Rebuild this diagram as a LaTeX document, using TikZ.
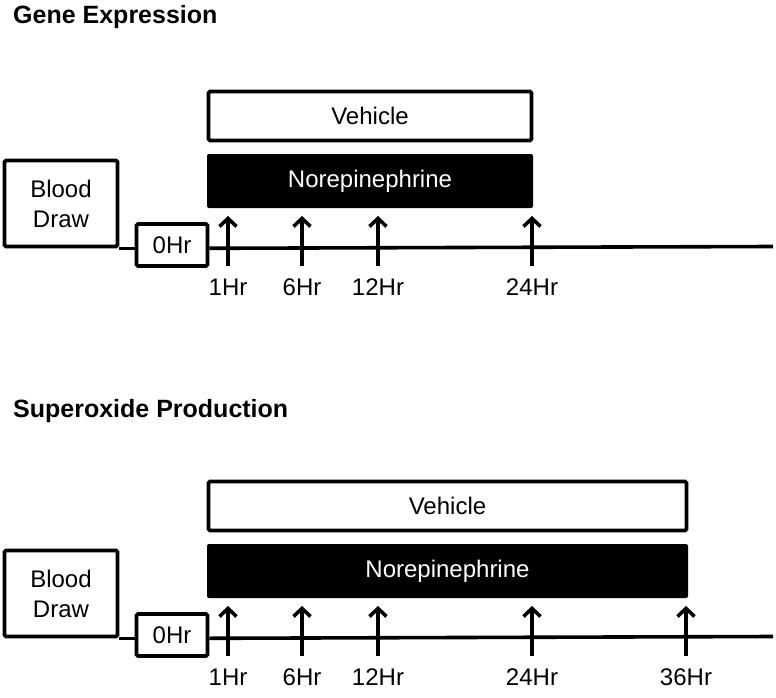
\documentclass[tikz,border=0pt]{standalone}
\usepackage{fontspec}
\setmainfont{Liberation Sans}
\usetikzlibrary{arrows.meta}
\begin{document}
\begin{tikzpicture}[x=1pt,y=-1pt,
  lw/.style={line width=3.6pt},
  whitebox/.style={lw, draw=black, fill=white, rounded corners=1.5pt, inner sep=0pt,
    font=\fontsize{24}{30}\selectfont, align=center},
  blackbox/.style={draw=none, fill=black, rounded corners=2pt, inner sep=0pt,
    text=white, font=\fontsize{24}{30}\selectfont},
  timeline/.style={lw},
  tick/.style={lw, -{Straight Barb[length=8pt,width=17pt]}},
  hr/.style={font=\fontsize{24}{30}\selectfont, inner sep=0pt},
  title/.style={font=\fontsize{25}{30}\selectfont\bfseries, anchor=base west, inner sep=0pt}]
\useasboundingbox (0,0) rectangle (776,698);

% ---------- Panel 1: Gene Expression ----------
\node[title] (t1) at (13,24) {Gene Expression};
\node[whitebox, minimum width=323pt, minimum height=49pt] (veh1) at (370,116) {Vehicle};
\node[blackbox, minimum width=326pt, minimum height=54pt] (ne1) at (370,181) {Norepinephrine};
\node[whitebox, minimum width=113pt, minimum height=86pt] (bd1) at (61,203.5) {Blood\\Draw};
\node[whitebox, minimum width=71pt, minimum height=42pt] (h01) at (172,245) {0Hr};
\coordinate (end1) at (773,246.5);
\draw[timeline] (bd1.south east) -- (h01.west |- bd1.south east);
\draw[timeline] (h01.east |- bd1.south east) -- (end1);
\foreach \x/\n/\t in {228/a/1Hr, 302/b/6Hr, 378/c/12Hr, 532/d/24Hr}{
  \coordinate (s1\n) at (\x,266);
  \coordinate (e1\n) at (\x,216);
  \draw[tick] (s1\n) -- (e1\n);
  \node[hr] (l1\n) at (\x,287) {\t};
}

% ---------- Panel 2: Superoxide Production ----------
\node[title] (t2) at (13,417) {Superoxide Production};
\node[whitebox, minimum width=478pt, minimum height=49pt] (veh2) at (447.5,506) {Vehicle};
\node[blackbox, minimum width=481pt, minimum height=54pt] (ne2) at (447.5,571) {Norepinephrine};
\node[whitebox, minimum width=113pt, minimum height=86pt] (bd2) at (61,593.5) {Blood\\Draw};
\node[whitebox, minimum width=71pt, minimum height=42pt] (h02) at (172,635) {0Hr};
\coordinate (end2) at (773,636.5);
\draw[timeline] (bd2.south east) -- (h02.west |- bd2.south east);
\draw[timeline] (h02.east |- bd2.south east) -- (end2);
\foreach \x/\n/\t in {228/a/1Hr, 302/b/6Hr, 378/c/12Hr, 532/d/24Hr, 686/e/36Hr}{
  \coordinate (s2\n) at (\x,656);
  \coordinate (e2\n) at (\x,606);
  \draw[tick] (s2\n) -- (e2\n);
  \node[hr] (l2\n) at (\x,677) {\t};
}
\end{tikzpicture}
\end{document}
